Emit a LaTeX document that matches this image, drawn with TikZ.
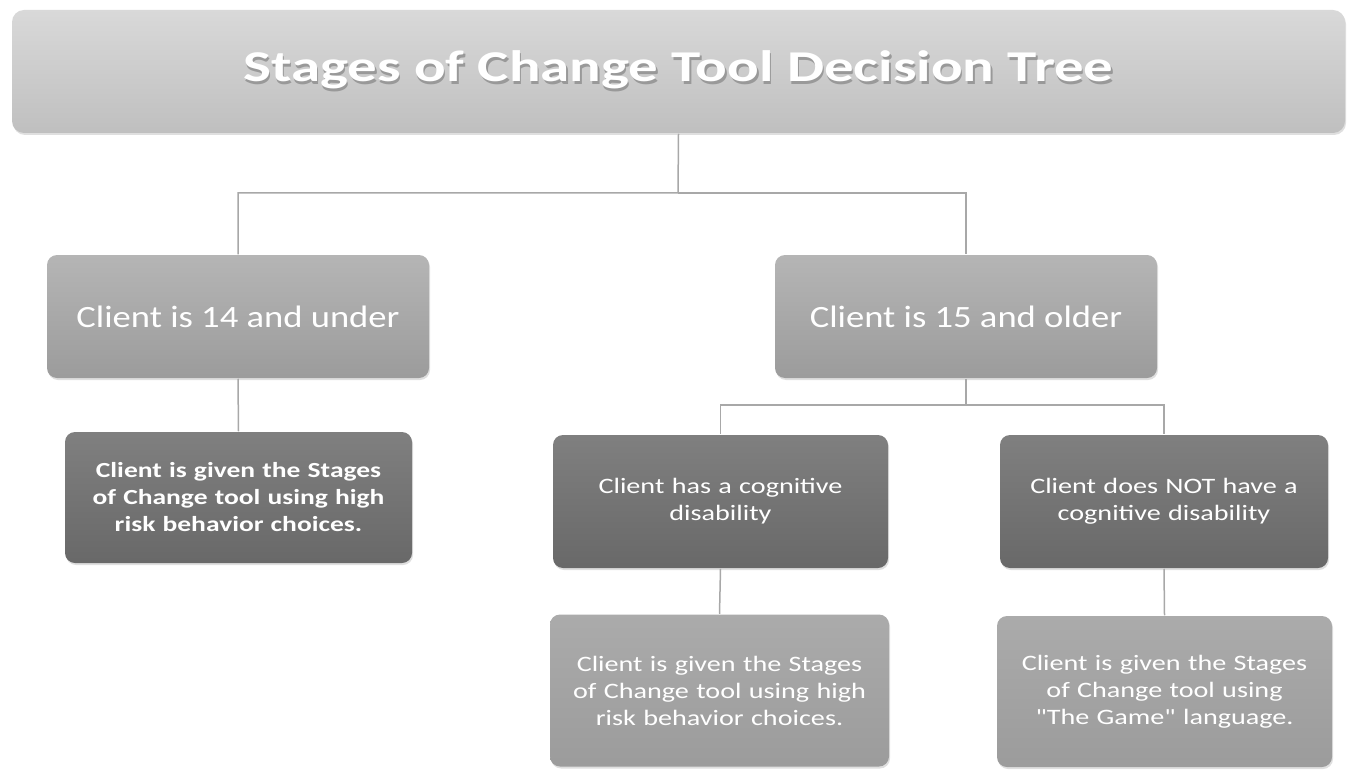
\documentclass[tikz,border=0pt]{standalone}
\usepackage{fontspec}
\setmainfont{Carlito}
\newfontfamily\titlefont{Carlito}[FakeStretch=1.34]
\newfontfamily\agefont{Carlito}[FakeStretch=1.18]
\newfontfamily\boxfont{Carlito}[FakeStretch=1.28]
\usetikzlibrary{shadows}
\definecolor{linegray}{HTML}{A8A8A8}
\newcommand\softshadow[1]{\raisebox{-4pt}{\makebox[0pt][l]{\hspace{1.5pt}\raisebox{-2.5pt}{\textcolor{black!40}{#1}}}#1}}

\begin{document}
\begin{tikzpicture}[x=1pt,y=-1pt,line width=1.5pt,
  base box/.style={rounded corners=10pt,draw=none,text=white,align=center,inner sep=0pt,
    drop shadow={shadow xshift=1pt,shadow yshift=-2pt,opacity=0.25}},
  title node/.style={base box,rounded corners=12pt,top color=black!15,bottom color=black!25,
    minimum width=1333pt,minimum height=123pt,font=\titlefont\fontsize{44}{48}\selectfont\bfseries},
  age node/.style={base box,top color=black!29,bottom color=black!39,
    minimum width=382pt,minimum height=123pt,font=\agefont\fontsize{31}{35}\selectfont},
  dark node/.style={base box,top color=black!50,bottom color=black!59,
    minimum width=335pt,minimum height=133pt,text width=320pt,font=\boxfont\fontsize{22}{27}\selectfont},
  tool node/.style={base box,top color=black!33,bottom color=black!39,
    minimum width=337pt,minimum height=152pt,text width=320pt,font=\boxfont\fontsize{22}{27}\selectfont},
  conn/.style={draw=linegray,line width=1.5pt}]
  \useasboundingbox (0,0) rectangle (1351,770);
  % tree boxes
  \node[title node] (title) at (678.5,71.5) {\softshadow{Stages of Change Tool Decision Tree}};
  \node[age node] (young) at (238,316.5) {Client is 14 and under};
  \node[age node] (old) at (966,316.5) {Client is 15 and older};
  \node[dark node,minimum width=347pt,minimum height=131pt,font=\boxfont\fontsize{21.5}{27}\selectfont\bfseries] (youngtool) at (238.5,497.5)
    {Client is given the Stages\\of Change tool using high\\risk behavior choices.};
  \node[dark node] (cog) at (720.5,501.5) {Client has a cognitive\\disability};
  \node[dark node,minimum width=328pt] (nocog) at (1164,501.5) {Client does NOT have a\\cognitive disability};
  \node[tool node,minimum width=339pt] (cogtool) at (719.5,690.5)
    {Client is given the Stages\\of Change tool using high\\risk behavior choices.};
  \node[tool node,minimum width=335pt,minimum height=151pt] (gametool) at (1164.5,691.5)
    {Client is given the Stages\\of Change tool using\\"The Game" language.};
  % connectors
  \coordinate (split) at (678,193);
  \coordinate (split2) at (966,405);
  \draw[conn] (title.south) -- (split) -| (young.north);
  \draw[conn] (split) -| (old.north);
  \draw[conn] (young.south) -- (youngtool.north);
  \draw[conn] (old.south) -- (split2) -| (cog.north);
  \draw[conn] (split2) -| (nocog.north);
  \draw[conn] (cog.south) -- (cogtool.north);
  \draw[conn] (nocog.south) -- (gametool.north);
\end{tikzpicture}
\end{document}
